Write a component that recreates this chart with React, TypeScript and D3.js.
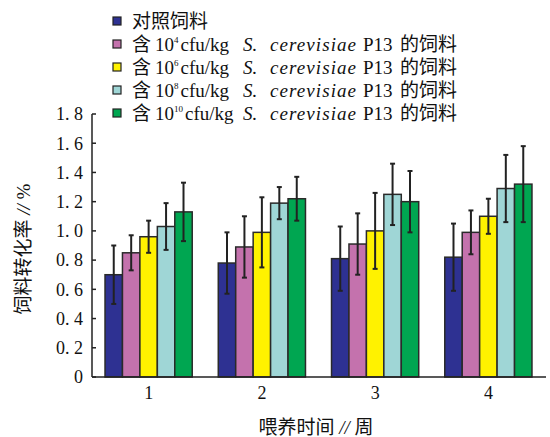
import React from 'react';
import * as d3 from 'd3';

const weeks = ['1', '2', '3', '4'];
const seriesNames = ['control', 'p4', 'p6', 'p8', 'p10'];
const seriesColors = ['#2e3192', '#c472ad', '#fff200', '#9fd6d6', '#00a651'];
const legendPowers = [null, '4', '6', '8', '10'];

// mean feed conversion per week, one array per treatment
const control = [0.70, 0.78, 0.81, 0.82];
const p4 = [0.85, 0.89, 0.91, 0.99];
const p6 = [0.96, 0.99, 1.00, 1.10];
const p8 = [1.03, 1.19, 1.25, 1.29];
const p10 = [1.13, 1.22, 1.20, 1.32];

const controlErr = [0.20, 0.21, 0.22, 0.23];
const p4Err = [0.12, 0.21, 0.21, 0.15];
const p6Err = [0.11, 0.24, 0.26, 0.12];
const p8Err = [0.16, 0.11, 0.21, 0.23];
const p10Err = [0.20, 0.15, 0.21, 0.26];

const yTicks = [0, 0.2, 0.4, 0.6, 0.8, 1.0, 1.2, 1.4, 1.6, 1.8];

const means = [control, p4, p6, p8, p10];
const errs = [controlErr, p4Err, p6Err, p8Err, p10Err];

const serif = '"Liberation Serif", "Noto Sans CJK SC", serif';

const fmt = (v: number) => (v === 0 ? '0' : v.toFixed(1).replace('.', '. '));

export default function App() {
  const width = 550;
  const height = 437;
  const axisX = 92;

  const x0 = d3.scaleBand().domain(weeks).range([axisX, 545]).paddingInner(0.23).paddingOuter(0.115);
  const x1 = d3.scaleBand().domain(seriesNames).range([0, x0.bandwidth()]);
  const y = d3.scaleLinear().domain([0, 1.8]).range([377, 114]);

  return (
    <svg width={width} height={height} style={{ position: 'absolute', left: 0, top: 0, background: '#fff' }}>
      {/* legend */}
      <g fontFamily={serif} fontSize={19} fill="#111">
        {seriesNames.map((s, i) => {
          const ly = 21 + i * 23;
          return (
            <g key={s}>
              <rect x={113} y={ly - 4} width={8} height={8} fill={seriesColors[i]} stroke="#222" strokeWidth={1.2} />
              {legendPowers[i] === null ? (
                <text x={132} y={ly + 7}>对照饲料</text>
              ) : (
                <text x={132} y={ly + 7}>
                  <tspan>含</tspan>
                  <tspan x={155}>10</tspan>
                  <tspan fontSize={9} dy={-8}>{legendPowers[i]}</tspan>
                  <tspan dx={2} dy={8}>cfu/kg</tspan>
                  <tspan x={243} fontStyle="italic">S.</tspan>
                  <tspan x={270} fontStyle="italic" textLength={86} lengthAdjust="spacing">cerevisiae</tspan>
                  <tspan x={363}>P13</tspan>
                  <tspan x={400}>的饲料</tspan>
                </text>
              )}
            </g>
          );
        })}
      </g>

      {/* bars */}
      {weeks.map((w, wi) => (
        <g key={w} transform={`translate(${x0(w)},0)`}>
          {seriesNames.map((s, si) => {
            const v = means[si][wi];
            const e = errs[si][wi];
            const bx = x1(s)!;
            const cx = bx + x1.bandwidth() / 2;
            return (
              <g key={s}>
                <rect x={bx} y={y(v)} width={x1.bandwidth()} height={y(0) - y(v)}
                  fill={seriesColors[si]} stroke="#2a2a2a" strokeWidth={1.5} />
                <line x1={cx} x2={cx} y1={y(v + e)} y2={y(v - e)} stroke="#222" strokeWidth={2} />
                <line x1={cx - 2.5} x2={cx + 2.5} y1={y(v + e)} y2={y(v + e)} stroke="#222" strokeWidth={2} />
                <line x1={cx - 2.5} x2={cx + 2.5} y1={y(v - e)} y2={y(v - e)} stroke="#222" strokeWidth={2} />
              </g>
            );
          })}
        </g>
      ))}

      {/* axes */}
      <line x1={axisX} x2={axisX} y1={y(1.8)} y2={y(0)} stroke="#222" strokeWidth={1.5} />
      <line x1={axisX} x2={546} y1={y(0)} y2={y(0)} stroke="#222" strokeWidth={1.5} />
      {yTicks.map(t => (
        <g key={t}>
          <line x1={axisX} x2={axisX + 4} y1={y(t)} y2={y(t)} stroke="#222" strokeWidth={1.5} />
          <text x={83} y={y(t)} dy="0.35em" textAnchor="end" fontFamily={serif} fontSize={18} fill="#111">{fmt(t)}</text>
        </g>
      ))}
      {weeks.map(w => (
        <text key={w} x={x0(w)! + x0.bandwidth() / 2} y={399} textAnchor="middle" fontFamily={serif} fontSize={18} fill="#111">{w}</text>
      ))}

      <text x={316} y={434} textAnchor="middle" fontFamily={serif} fontSize={19} fill="#111">
        喂养时间 <tspan fontStyle="italic">//</tspan> 周
      </text>
      <text transform="translate(30,249) rotate(-90)" textAnchor="middle" fontFamily={serif} fontSize={19} fill="#111">
        饲料转化率 <tspan fontStyle="italic">//</tspan> %
      </text>
    </svg>
  );
}
